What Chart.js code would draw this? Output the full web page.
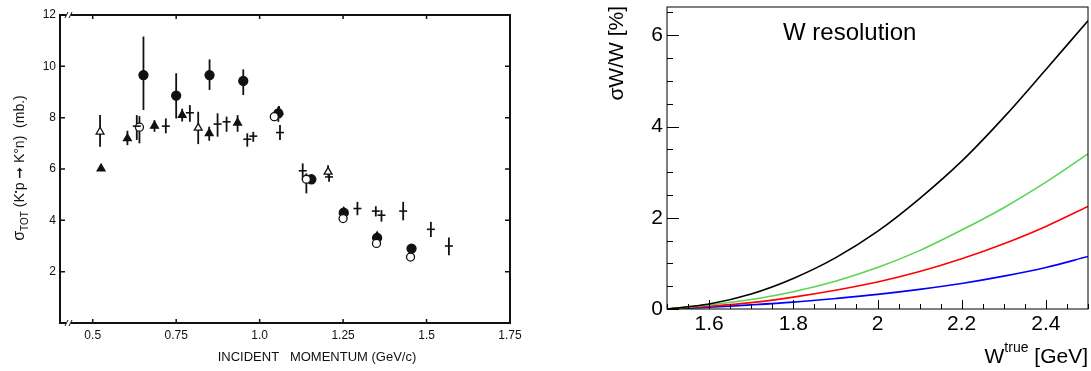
<!DOCTYPE html>
<html>
<head>
<meta charset="utf-8">
<script src="https://cdn.jsdelivr.net/npm/chart.js@4.4.0/dist/chart.umd.min.js"></script>
<style>
    body { margin: 0; background: #fff; }
    #left { position: absolute; left: 0; top: 0; }
    #right { position: absolute; left: 600px; top: 0; }
</style>
</head>
<body>
<canvas id="left" width="540" height="371"></canvas>
<canvas id="right" width="491" height="371"></canvas>
<script>
/* jshint esversion: 6 */

// ---- left panel: sigma_TOT vs incident momentum
// filled circles
const fcMom = [0.652, 0.75, 0.85, 0.951, 1.056, 1.155, 1.252, 1.352, 1.455];
const fcSig = [9.66, 8.86, 9.66, 9.43, 8.17, 5.6, 4.3, 3.32, 2.9];
const fcLo = [8.3, 7.97, 9.08, 8.88, 7.84, null, null, null, null];
const fcHi = [11.16, 9.73, 10.27, 9.88, 8.43, null, null, null, null];
// open circles
const ocMom = [0.64, 1.044, 1.14, 1.25, 1.35, 1.452];
const ocSig = [7.63, 8.04, 5.6, 4.07, 3.1, 2.57];
const ocLo = [7.0, null, 5.05, null, null, null];
const ocHi = [8.06, null, 5.83, null, null, null];
// open triangles
const otMom = [0.522, 0.816, 1.205];
const otSig = [7.45, 7.6, 5.89];
const otLo = [6.87, 6.97, 5.75];
const otHi = [8.1, 8.23, 6.15];
// filled triangles
const ftMom = [0.525, 0.604, 0.685, 0.768, 0.849, 0.934, 1.058, 1.252, 1.352];
const ftSig = [6.02, 7.19, 7.68, 8.1, 7.39, 7.8, 8.23, 4.33, 3.38];
const ftLo = [null, 6.93, 7.45, 7.85, 7.1, 7.45, 8.0, null, null];
const ftHi = [null, 7.49, 7.9, 8.35, 7.65, 8.1, 8.45, null, null];
// plain crosses
const crMom = [0.632, 0.719, 0.791, 0.874, 0.901, 0.963, 0.981, 1.061, 1.129, 1.208, 1.293, 1.348, 1.365, 1.43, 1.513, 1.567];
const crSig = [7.67, 7.67, 8.19, 7.75, 7.84, 7.16, 7.28, 7.42, 5.93, 5.69, 4.46, 4.36, 4.2, 4.36, 3.65, 3.0];
const crLo = [7.13, 7.39, 7.84, 7.26, 7.45, 6.87, 7.06, 7.13, 5.57, 5.5, 4.2, 4.15, 3.95, 4.0, 3.35, 2.64];
const crHi = [8.1, 7.97, 8.49, 8.17, 8.04, 7.39, 7.45, 7.71, 6.22, 5.95, 4.72, 4.55, 4.4, 4.72, 3.94, 3.33];

const momTicks = [0.5, 0.75, 1.0, 1.25, 1.5, 1.75];
const sigTicks = [2, 4, 6, 8, 10, 12];

// ---- right panel: W resolution curves
const wTrue = [1.5, 1.6, 1.7, 1.8, 1.9, 2.0, 2.1, 2.2, 2.3, 2.4, 2.5];
const resBlack = [0, 0.11, 0.33, 0.67, 1.12, 1.70, 2.42, 3.24, 4.20, 5.25, 6.32];
const resGreen = [0, 0.09, 0.21, 0.38, 0.61, 0.91, 1.28, 1.73, 2.22, 2.78, 3.40];
const resRed = [0, 0.06, 0.14, 0.26, 0.41, 0.59, 0.82, 1.10, 1.43, 1.81, 2.25];
const resBlue = [0, 0.04, 0.09, 0.15, 0.23, 0.32, 0.43, 0.56, 0.72, 0.91, 1.15];

const wTicks = [1.6, 1.8, 2.0, 2.2, 2.4];
const resTicks = [0, 2, 4, 6];

function toPts(xs, ys) {
    return xs.map((v, i) => ({ x: v, y: ys[i] }));
}

// draw a row of text pieces with their own font and baseline shift
function drawRuns(ctx, runs, x, y) {
    runs.forEach(r => {
        ctx.font = r.font;
        ctx.fillText(r.t, x, y + (r.dy || 0));
        x += ctx.measureText(r.t).width;
    });
    return x;
}
function runsWidth(ctx, runs) {
    let w = 0;
    runs.forEach(r => { ctx.font = r.font; w += ctx.measureText(r.t).width; });
    return w;
}

// vertical error bars taken from errLo / errHi of each dataset
const errorBars = {
    id: "errorBars",
    beforeDatasetsDraw(chart) {
        let ctx = chart.ctx, xs = chart.scales.x, ys = chart.scales.y;
        chart.data.datasets.forEach(ds => {
            if (!ds.errLo) return;
            ctx.save();
            ctx.strokeStyle = "#111";
            ctx.lineWidth = 1.8;
            ds.data.forEach((p, i) => {
                if (ds.errLo[i] == null) return;
                let px = xs.getPixelForValue(p.x);
                ctx.beginPath();
                ctx.moveTo(px, ys.getPixelForValue(ds.errLo[i]));
                ctx.lineTo(px, ys.getPixelForValue(ds.errHi[i]));
                ctx.stroke();
            });
            ctx.restore();
        });
    }
};

const leftDecor = {
    id: "leftDecor",
    afterDraw(chart) {
        let ctx = chart.ctx, a = chart.chartArea, xs = chart.scales.x, ys = chart.scales.y;
        ctx.save();
        ctx.strokeStyle = "#111";
        ctx.lineWidth = 2;
        ctx.strokeRect(a.left, a.top, a.right - a.left, a.bottom - a.top);
        ctx.lineWidth = 1.5;
        sigTicks.forEach(v => {
            let py = ys.getPixelForValue(v);
            ctx.beginPath();
            ctx.moveTo(a.left, py); ctx.lineTo(a.left + 5, py);
            ctx.moveTo(a.right, py); ctx.lineTo(a.right - 5, py);
            ctx.stroke();
        });
        momTicks.forEach(v => {
            let px = xs.getPixelForValue(v);
            ctx.beginPath();
            ctx.moveTo(px, a.bottom); ctx.lineTo(px, a.bottom - 4);
            ctx.moveTo(px, a.top); ctx.lineTo(px, a.top + 4);
            ctx.stroke();
        });
        // axis break marks
        ctx.lineWidth = 1;
        [a.bottom, a.top].forEach(yy => {
            ctx.fillStyle = "#fff";
            ctx.fillRect(a.left + 6, yy - 2, 5, 4);
            ctx.beginPath();
            ctx.moveTo(a.left + 5, yy + 3); ctx.lineTo(a.left + 8, yy - 3);
            ctx.moveTo(a.left + 9, yy + 3); ctx.lineTo(a.left + 12, yy - 3);
            ctx.stroke();
        });

        ctx.fillStyle = "#111";
        // x title
        ctx.font = "13px 'Liberation Sans'";
        ctx.textAlign = "center";
        ctx.textBaseline = "middle";
        ctx.fillText("INCIDENT   MOMENTUM (GeV/c)", 317, 357);

        // y title, rotated
        ctx.textAlign = "left";
        ctx.textBaseline = "alphabetic";
        let runs = [
            { t: "σ", font: "16px 'Liberation Sans'" },
            { t: "TOT", font: "10px 'Liberation Sans'", dy: 4 },
            { t: " (K", font: "14px 'Liberation Sans'" },
            { t: "•", font: "8px 'Liberation Sans'", dy: -6 },
            { t: "p ", font: "14px 'Liberation Sans'" },
            { t: "➞", font: "bold 14px 'DejaVu Sans'" },
            { t: " K°n)  (mb.)", font: "14px 'Liberation Sans'" }
        ];
        let w = runsWidth(ctx, runs);
        ctx.translate(24, 168);
        ctx.rotate(-Math.PI / 2);
        drawRuns(ctx, runs, -w / 2, 0);
        ctx.restore();
    }
};

const rightDecor = {
    id: "rightDecor",
    afterDraw(chart) {
        let ctx = chart.ctx, a = chart.chartArea, xs = chart.scales.x, ys = chart.scales.y;
        ctx.save();
        ctx.strokeStyle = "#000";
        ctx.lineWidth = 1;
        ctx.strokeRect(a.left, a.top, a.right - a.left, a.bottom - a.top);
        // inward ticks, ROOT style
        ctx.beginPath();
        for (let k = 0; k <= 13; k++) {
            let py = Math.round(ys.getPixelForValue(k * 0.5)) + 0.5;
            ctx.moveTo(a.left, py);
            ctx.lineTo(a.left + (k % 4 === 0 ? 12 : 6), py);
        }
        for (let k = 0; k <= 20; k++) {
            let px = Math.round(xs.getPixelForValue(1.5 + k * 0.05)) + 0.5;
            ctx.moveTo(px, a.bottom);
            ctx.lineTo(px, a.bottom - ((k - 2) % 4 === 0 ? 9 : 5));
        }
        ctx.stroke();

        ctx.fillStyle = "#000";
        ctx.textBaseline = "alphabetic";
        ctx.textAlign = "left";
        ctx.font = "24px 'Liberation Sans'";
        ctx.fillText("W resolution", 183, 40);

        // x title with superscript, right aligned to frame
        let runs = [
            { t: "W", font: "21px 'Liberation Sans'" },
            { t: "true", font: "14px 'Liberation Sans'", dy: -11 },
            { t: " [GeV]", font: "21px 'Liberation Sans'" }
        ];
        let w = runsWidth(ctx, runs);
        drawRuns(ctx, runs, a.right - w, 363);

        // y title, rotated, aligned to top
        ctx.font = "21px 'Liberation Sans'";
        ctx.textAlign = "right";
        ctx.translate(23, 6);
        ctx.rotate(-Math.PI / 2);
        ctx.fillText("σW/W [%]", 0, 0);
        ctx.restore();
    }
};

document.addEventListener("DOMContentLoaded", function () {
    let leftCanvas = document.getElementById("left");
    let rightCanvas = document.getElementById("right");

    let blackPt = (xs, ys, lo, hi, style, fill, r) => ({
        data: toPts(xs, ys),
        errLo: lo,
        errHi: hi,
        pointStyle: style,
        pointRadius: r,
        backgroundColor: fill,
        borderColor: "#111",
        borderWidth: style === "line" ? 1.6 : 1.3
    });

    new Chart(leftCanvas, {
        type: "scatter",
        data: {
            datasets: [
                blackPt(crMom, crSig, crLo, crHi, "line", "#111", 4),
                blackPt(ocMom, ocSig, ocLo, ocHi, "circle", "#fff", 4),
                blackPt(otMom, otSig, otLo, otHi, "triangle", "#fff", 4.5),
                blackPt(ftMom, ftSig, ftLo, ftHi, "triangle", "#111", 4.5),
                blackPt(fcMom, fcSig, fcLo, fcHi, "circle", "#111", 4.5)
            ]
        },
        options: {
            responsive: false,
            animation: false,
            layout: { padding: { top: 15, right: 30, left: 0, bottom: 0 } },
            plugins: { legend: { display: false }, tooltip: { enabled: false } },
            scales: {
                x: {
                    type: "linear",
                    min: 0.402,
                    max: 1.75,
                    grid: { display: false, drawTicks: false },
                    border: { display: false },
                    afterBuildTicks: s => { s.ticks = momTicks.map(v => ({ value: v })); },
                    afterFit: s => { s.height = 48; s.paddingLeft = 0; s.paddingRight = 0; },
                    ticks: {
                        padding: 5,
                        color: "#111",
                        maxRotation: 0,
                        autoSkip: false,
                        font: { family: "Liberation Sans", size: 12 },
                        callback: v => (v === 1 ? "1.0" : String(v))
                    }
                },
                y: {
                    min: 0,
                    max: 12,
                    grid: { display: false, drawTicks: false },
                    border: { display: false },
                    afterBuildTicks: s => { s.ticks = sigTicks.map(v => ({ value: v })); },
                    afterFit: s => { s.width = 60; s.paddingTop = 0; s.paddingBottom = 0; },
                    ticks: {
                        padding: 4,
                        color: "#111",
                        font: { family: "Liberation Sans", size: 12 }
                    }
                }
            }
        },
        plugins: [errorBars, leftDecor]
    });

    let curve = (ys, colour) => ({
        data: toPts(wTrue, ys),
        borderColor: colour,
        borderWidth: 1.6,
        pointRadius: 0,
        fill: false,
        showLine: true,
        tension: 0.35
    });

    new Chart(rightCanvas, {
        type: "scatter",
        data: {
            datasets: [
                curve(resBlack, "#000000"),
                curve(resGreen, "#59d454"),
                curve(resRed, "#ff0000"),
                curve(resBlue, "#0000ff")
            ]
        },
        options: {
            responsive: false,
            animation: false,
            layout: { padding: { top: 7, right: 3, left: 0, bottom: 0 } },
            plugins: { legend: { display: false }, tooltip: { enabled: false } },
            scales: {
                x: {
                    type: "linear",
                    min: 1.5,
                    max: 2.5,
                    grid: { display: false, drawTicks: false },
                    border: { display: false },
                    afterBuildTicks: s => { s.ticks = wTicks.map(v => ({ value: v })); },
                    afterFit: s => { s.height = 62; s.paddingLeft = 0; s.paddingRight = 0; },
                    ticks: {
                        padding: 3,
                        color: "#000",
                        maxRotation: 0,
                        autoSkip: false,
                        font: { family: "Liberation Sans", size: 21 },
                        callback: v => String(Math.round(v * 10) / 10)
                    }
                },
                y: {
                    min: 0,
                    max: 6.62,
                    grid: { display: false, drawTicks: false },
                    border: { display: false },
                    afterBuildTicks: s => { s.ticks = resTicks.map(v => ({ value: v })); },
                    afterFit: s => { s.width = 67; s.paddingTop = 0; s.paddingBottom = 0; },
                    ticks: {
                        padding: 4,
                        color: "#000",
                        font: { family: "Liberation Sans", size: 21 }
                    }
                }
            }
        },
        plugins: [rightDecor]
    });
});
</script>
</body>
</html>
